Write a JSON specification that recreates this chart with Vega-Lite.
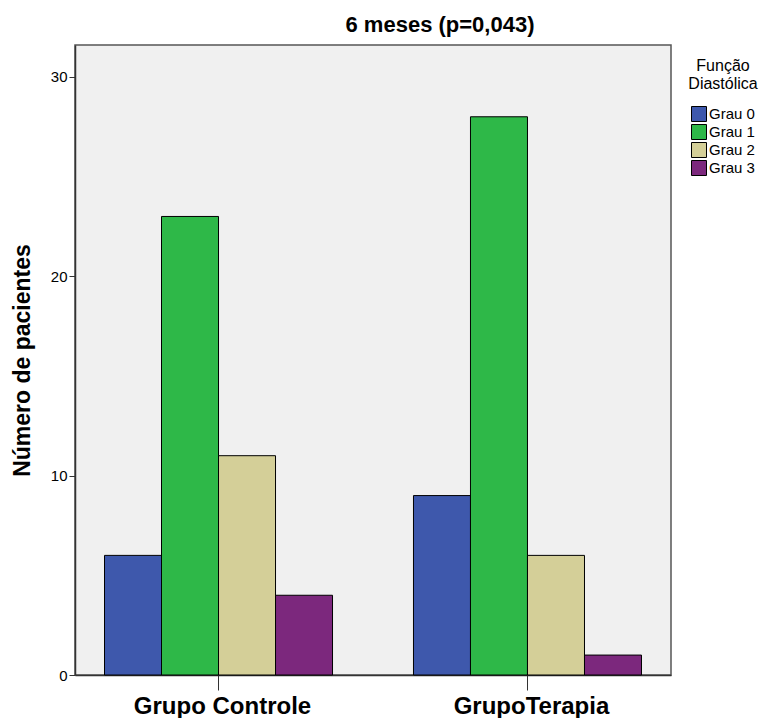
{
  "$schema": "https://vega.github.io/schema/vega-lite/v6.json",
  "width": 596,
  "height": 630,
  "autosize": {"type": "none"},
  "padding": {"left": 75, "top": 45, "right": 97, "bottom": 43},
  "background": "white",
  "title": {
    "text": "6 meses (p=0,043)",
    "font": "Liberation Sans",
    "fontSize": 22,
    "fontWeight": "bold",
    "color": "#000000",
    "anchor": "middle",
    "dx": 67,
    "offset": 8
  },
  "config": {
    "view": {"fill": "#f0f0f0", "stroke": "#555555", "strokeWidth": 1.5},
    "font": "Liberation Sans"
  },
  "data": {
    "values": [
      {"grupo": "Grupo Controle", "grau": "Grau 0", "n": 6},
      {"grupo": "Grupo Controle", "grau": "Grau 1", "n": 23},
      {"grupo": "Grupo Controle", "grau": "Grau 2", "n": 11},
      {"grupo": "Grupo Controle", "grau": "Grau 3", "n": 4},
      {"grupo": "GrupoTerapia", "grau": "Grau 0", "n": 9},
      {"grupo": "GrupoTerapia", "grau": "Grau 1", "n": 28},
      {"grupo": "GrupoTerapia", "grau": "Grau 2", "n": 6},
      {"grupo": "GrupoTerapia", "grau": "Grau 3", "n": 1}
    ]
  },
  "mark": {"type": "bar", "stroke": "#000000", "strokeWidth": 1, "opacity": 1},
  "encoding": {
    "x": {
      "field": "grupo",
      "type": "nominal",
      "sort": ["Grupo Controle", "GrupoTerapia"],
      "scale": {"paddingInner": 0.262, "paddingOuter": 0.0955},
      "axis": {
        "title": null,
        "labelAngle": 0,
        "labelFont": "Liberation Sans",
        "labelFontSize": 24,
        "labelFontWeight": "bold",
        "labelColor": "#000000",
        "labelPadding": 4,
        "labelOffset": 4,
        "tickSize": 15,
        "tickColor": "#333333",
        "domainColor": "#333333",
        "domainWidth": 1.5,
        "grid": false
      }
    },
    "xOffset": {
      "field": "grau",
      "type": "nominal",
      "sort": ["Grau 0", "Grau 1", "Grau 2", "Grau 3"],
      "scale": {"paddingInner": 0, "paddingOuter": 0}
    },
    "y": {
      "field": "n",
      "type": "quantitative",
      "scale": {"domain": [0, 31.6], "nice": false},
      "axis": {
        "title": "Número de pacientes",
        "titleFont": "Liberation Sans",
        "titleFontSize": 23,
        "titleFontWeight": "bold",
        "titleColor": "#000000",
        "titlePadding": 16,
        "values": [0, 10, 20, 30],
        "labelFont": "Liberation Sans",
        "labelFontSize": 15,
        "labelColor": "#000000",
        "labelPadding": 2,
        "tickSize": 6,
        "tickColor": "#333333",
        "domainColor": "#333333",
        "domainWidth": 1.5,
        "grid": false
      }
    },
    "color": {
      "field": "grau",
      "type": "nominal",
      "scale": {
        "domain": ["Grau 0", "Grau 1", "Grau 2", "Grau 3"],
        "range": ["#3e58ac", "#2eb848", "#d4cf98", "#7c287d"]
      },
      "legend": {
        "title": ["Função", "Diastólica"],
        "titleFont": "Liberation Sans",
        "titleFontSize": 16,
        "titleFontWeight": "normal",
        "titleColor": "#000000",
        "titleAlign": "center",
        "titleAnchor": "middle",
        "titlePadding": 14,
        "labelFont": "Liberation Sans",
        "labelFontSize": 15,
        "labelColor": "#000000",
        "labelOffset": 2,
        "symbolType": "square",
        "symbolSize": 225,
        "symbolStrokeColor": "#000000",
        "symbolStrokeWidth": 1,
        "symbolOpacity": 1,
        "rowPadding": -2,
        "orient": "none",
        "legendX": 613,
        "legendY": 13
      }
    }
  }
}
